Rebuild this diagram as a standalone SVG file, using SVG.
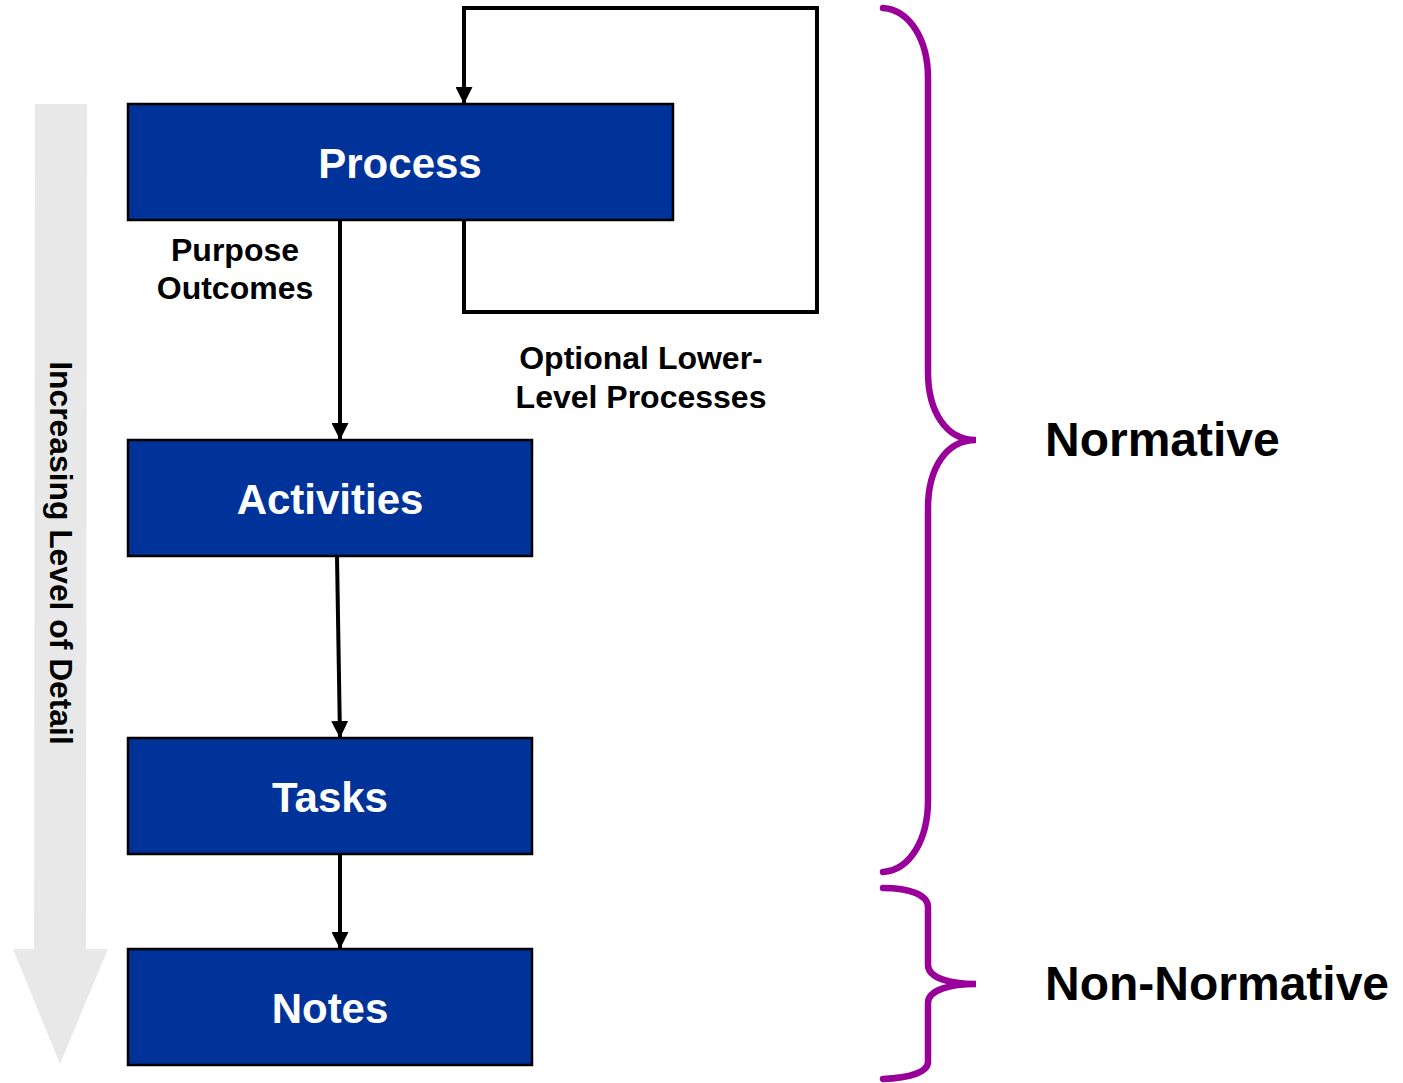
<svg xmlns="http://www.w3.org/2000/svg" width="1403" height="1083" viewBox="0 0 1403 1083">
<style>
.box{fill:#003399;stroke:#000;stroke-width:2.5}
.bt{font-family:"Liberation Sans",Arial,sans-serif;font-weight:bold;font-size:42px;fill:#fff;text-anchor:middle}
.lbl{font-family:"Liberation Sans",Arial,sans-serif;font-weight:bold;font-size:32px;fill:#000;text-anchor:middle}
.vt{font-family:"Liberation Sans",Arial,sans-serif;font-weight:bold;font-size:31.8px;fill:#000;text-anchor:middle}
.big{font-family:"Liberation Sans",Arial,sans-serif;font-weight:bold;font-size:48px;fill:#000}
.ln{fill:none;stroke:#000;stroke-width:4}
.brace{fill:none;stroke:#990099;stroke-width:6.5;stroke-linecap:round}
</style>
<defs>
<marker id="ah" viewBox="0 0 17 17" refX="17" refY="8.5" markerWidth="17" markerHeight="17" markerUnits="userSpaceOnUse" orient="auto">
<path d="M0,0 L17,8.5 L0,17 Z" fill="#000"/>
</marker>
</defs>
<g id="detail-arrow">
<polygon points="35,104 87,104 86,949 108,949 60,1064 13,949 34,949" fill="#e8e8e8"/>
<text class="vt" transform="translate(50,553) rotate(90)">Increasing Level of Detail</text>
</g>
<g id="connectors">
<path class="ln" d="M464,220 L464,312 L817,312 L817,8 L464,8 L464,104" marker-end="url(#ah)"/>
<line class="ln" x1="340" y1="220" x2="340" y2="440" marker-end="url(#ah)"/>
<line class="ln" x1="337" y1="556" x2="340" y2="738" marker-end="url(#ah)"/>
<line class="ln" x1="340" y1="854" x2="340" y2="949" marker-end="url(#ah)"/>
<text class="lbl" x="235" y="261">Purpose</text>
<text class="lbl" x="235" y="299">Outcomes</text>
<text class="lbl" x="641" y="369">Optional Lower-</text>
<text class="lbl" x="641" y="408">Level Processes</text>
</g>
<g id="process">
<rect class="box" x="128" y="104" width="545" height="116"/>
<text class="bt" x="400" y="178">Process</text>
</g>
<g id="activities">
<rect class="box" x="128" y="440" width="404" height="116"/>
<text class="bt" x="330" y="514">Activities</text>
</g>
<g id="tasks">
<rect class="box" x="128" y="738" width="404" height="116"/>
<text class="bt" x="330" y="812">Tasks</text>
</g>
<g id="notes">
<rect class="box" x="128" y="949" width="404" height="116"/>
<text class="bt" x="330" y="1023">Notes</text>
</g>
<g id="normative">
<path class="brace" d="M883,8 C910,10 928,40 928,78 L928,372 C928,410 945,440 976,440 C945,440 928,470 928,508 L928,800 C928,840 910,870 883,872"/>
<text class="big" x="1045" y="456">Normative</text>
</g>
<g id="non-normative">
<path class="brace" d="M883,888 C910,888 928,895 928,907 L928,965 C928,978 950,984 976,984 C950,984 928,990 928,1003 L928,1062 C928,1072 910,1078 883,1079"/>
<text class="big" x="1045" y="1000">Non-Normative</text>
</g>
</svg>
